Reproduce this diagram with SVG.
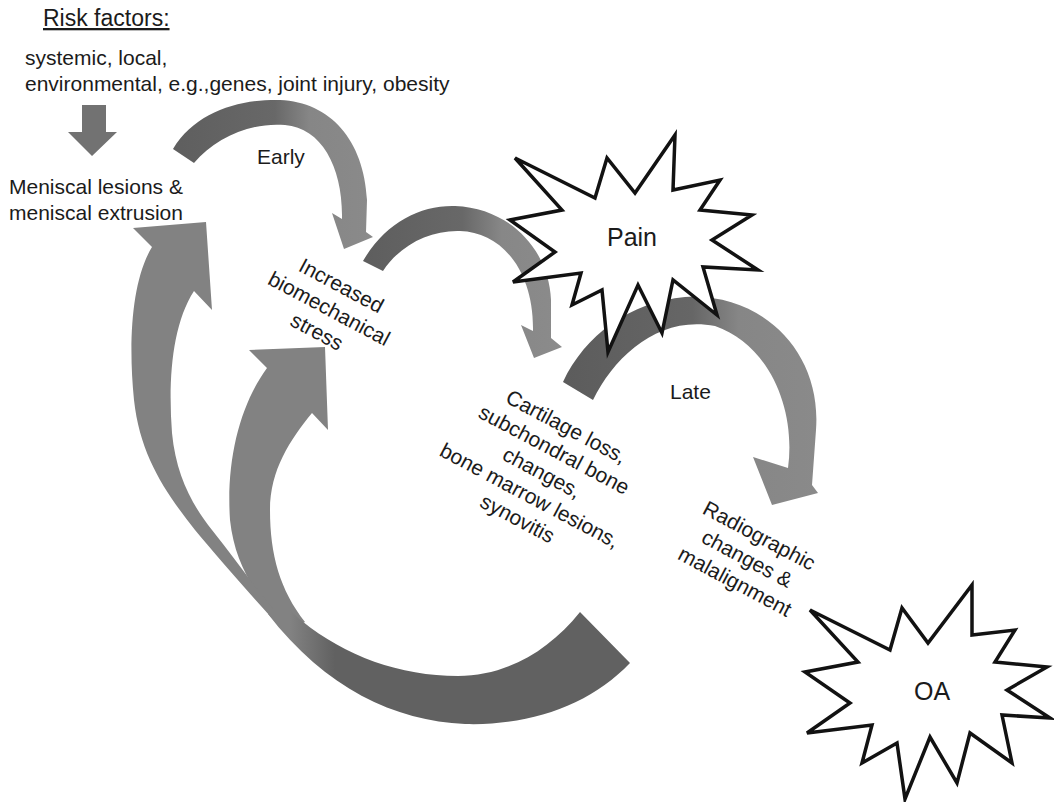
<svg xmlns="http://www.w3.org/2000/svg" width="1054" height="802" viewBox="0 0 1054 802">
  <defs>
    <style>
      text { font-family: "Liberation Sans", Arial, Helvetica, sans-serif; font-size: 21px; fill: #1b1b1b; }
      .label { font-size: 25px; }
      .heading { font-size: 23px; text-decoration: underline; }
      .burst { fill: #ffffff; stroke: #121212; stroke-width: 3.5; stroke-linejoin: miter; }
      .shaft { fill: #828282; }
    </style>
    <!-- shading along each curved arrow: dark tail, lighter head -->
    <linearGradient id="gEarly" gradientUnits="userSpaceOnUse" x1="180" y1="0" x2="370" y2="0">
      <stop offset="0" stop-color="#5f5f5f"/>
      <stop offset="0.5" stop-color="#686868"/>
      <stop offset="0.68" stop-color="#868686"/>
      <stop offset="1" stop-color="#8a8a8a"/>
    </linearGradient>
    <linearGradient id="gMid" gradientUnits="userSpaceOnUse" x1="365" y1="0" x2="560" y2="0">
      <stop offset="0" stop-color="#5e5e5e"/>
      <stop offset="0.5" stop-color="#686868"/>
      <stop offset="0.7" stop-color="#878787"/>
      <stop offset="1" stop-color="#8b8b8b"/>
    </linearGradient>
    <linearGradient id="gLate" gradientUnits="userSpaceOnUse" x1="565" y1="0" x2="820" y2="0">
      <stop offset="0" stop-color="#5c5c5c"/>
      <stop offset="0.5" stop-color="#666666"/>
      <stop offset="0.68" stop-color="#868686"/>
      <stop offset="1" stop-color="#8a8a8a"/>
    </linearGradient>
    <linearGradient id="gBase" gradientUnits="userSpaceOnUse" x1="290" y1="0" x2="335" y2="0">
      <stop offset="0" stop-color="#828282"/>
      <stop offset="1" stop-color="#616161"/>
    </linearGradient>
  </defs>

  <rect width="1054" height="802" fill="#ffffff"/>

  <g id="connectors">
    <!-- risk factors down to meniscal lesions -->
    <path fill="#727272" d="M82,105 L106,105 L106,132 L117,132 L92,156 L68,132 L82,132 Z"/>
    <!-- Early: meniscus to biomechanical stress -->
    <path fill="url(#gEarly)" d="M173,149 C195,112 240,99 280,100 C330,102 364,140 367,200 L366,232 L373,237 L344,249 L332,213 L342,219 C343,168 322,128 285,125 C250,122 215,138 194,163 Z"/>
    <!-- stress to cartilage / bone changes -->
    <path fill="url(#gMid)" d="M363,261 C385,223 420,205 455,206 C510,208 549,250 551,300 L551,338 L562,347 L534,358 L521,325 L533,331 C534,270 501,232 460,231 C430,230 400,245 383,271 Z"/>
    <!-- Late: cartilage to radiographic changes -->
    <path fill="url(#gLate)" d="M563,382 C585,335 630,302 685,297 C760,292 822,350 816,430 L812,485 L818,493 L772,505 L753,457 L788,468 C796,410 770,345 715,326 C660,315 615,355 593,400 Z"/>
    <!-- feedback branch up to biomechanical stress -->
    <path class="shaft" d="M249,350 L325,347 L328,430 L312,413 C290,440 270,470 270,510 C270,555 280,590 305,622 L288,630 C255,595 235,565 230,520 C226,460 240,405 267,368 Z"/>
    <!-- feedback branch up to meniscal lesions -->
    <path class="shaft" d="M133,228 L206,222 L212,310 L194,291 C172,325 168,380 172,433 C176,475 192,505 212,530 C240,565 262,598 290,628 L292,640 C255,600 220,560 195,530 C165,492 140,455 134,400 C128,340 132,280 152,247 Z"/>
    <!-- feedback loop: bottom sweep joining both branches -->
    <path fill="url(#gBase)" d="M580,612 L630,663 C590,705 530,726 465,724 C395,721 325,688 268,614 L283,598 C288,608 293,614 302,621 C345,656 400,676 458,676 C505,676 548,652 580,612 Z"/>
  </g>

  <g id="risk-factors">
    <text class="heading" x="43" y="26">Risk factors:</text>
    <text x="25" y="65">systemic, local,</text>
    <text x="25" y="91">environmental, e.g.,genes, joint injury, obesity</text>
  </g>

  <g id="meniscal-lesions">
    <text x="9" y="194">Meniscal lesions &amp;</text>
    <text x="9" y="220">meniscal extrusion</text>
  </g>

  <g id="label-early">
    <text x="257" y="164">Early</text>
  </g>

  <g id="label-late">
    <text x="670" y="399">Late</text>
  </g>

  <g id="biomechanical-stress" transform="translate(338,292) rotate(28)" text-anchor="middle">
    <text x="0" y="0">Increased</text>
    <text x="0" y="26">biomechanical</text>
    <text x="0" y="52">stress</text>
  </g>

  <g id="cartilage-loss" transform="translate(563,433) rotate(28)" text-anchor="middle">
    <text x="0" y="0">Cartilage loss,</text>
    <text x="0" y="26">subchondral bone</text>
    <text x="0" y="52">changes,</text>
    <text x="0" y="78">bone marrow lesions,</text>
    <text x="0" y="104">synovitis</text>
  </g>

  <g id="radiographic-changes" transform="translate(756,542) rotate(28)" text-anchor="middle">
    <text x="0" y="0">Radiographic</text>
    <text x="0" y="26">changes &amp;</text>
    <text x="0" y="52">malalignment</text>
  </g>

  <g id="pain">
    <polygon class="burst" points="515,158 595,198 607,158 635,193 675,135 673,190 720,180 700,210 752,215 712,240 758,270 703,267 717,315 673,280 662,333 638,285 608,352 602,290 572,305 581,273 513,282 555,252 510,220 562,210"/>
    <text class="label" x="632" y="246" text-anchor="middle">Pain</text>
  </g>

  <g id="oa">
    <polygon class="burst" points="810,610 890,650 902,608 928,643 972,585 972,635 1015,630 995,662 1047,667 1007,690 1050,718 1002,715 1012,763 970,733 957,783 930,737 905,799 897,743 862,763 872,725 807,733 850,703 805,672 858,662"/>
    <text class="label" x="932" y="700" text-anchor="middle">OA</text>
  </g>
</svg>
